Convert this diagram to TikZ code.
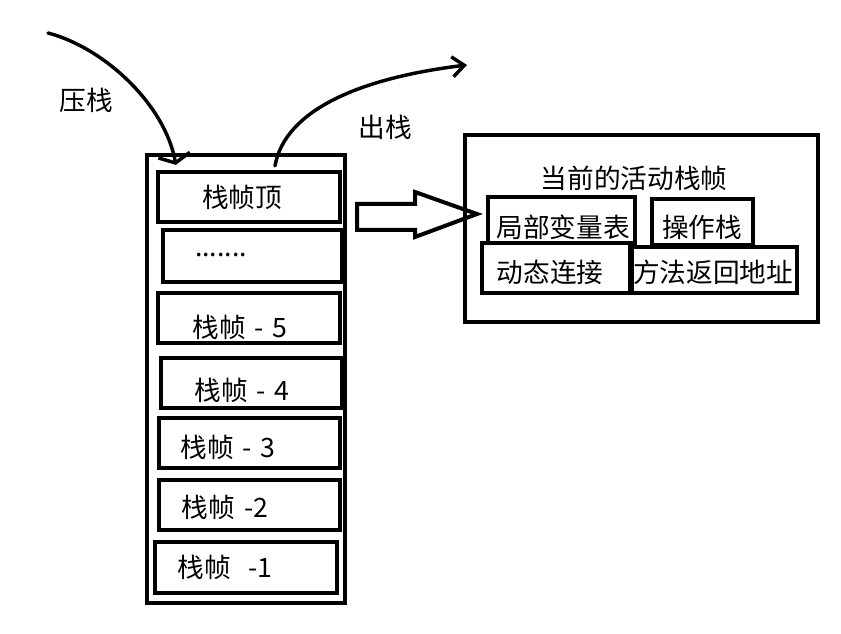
\documentclass[tikz,border=0pt]{standalone}
\usepackage{fontspec}
\newfontfamily\cjk[WordSpace=1.5]{Noto Sans CJK SC}
\usepackage{tikz}
\usetikzlibrary{arrows.meta, positioning, calc, fit}

\begin{document}
\begin{tikzpicture}[x=0.75pt, y=-0.75pt,
    frame/.style={draw, rectangle, line width=3.2pt, inner sep=0pt},
    part/.style={frame, line width=3.6pt},
    txt/.style={font=\cjk\fontsize{20}{24}\selectfont, inner sep=0pt},
    curve/.style={line width=2.6pt, line cap=round}]
    \useasboundingbox (0,0) rectangle (841,634);
    % the stack and its frames
    \node[frame, line width=2.5pt, fit={(147,155) (345,603)}] (stack) {};
    \node[frame, fit={(158,172) (340,222)}] (f0) {};
    \node[frame, fit={(163,230) (342,282)}] (fd) {};
    \node[frame, fit={(158,293) (340,343)}] (f5) {};
    \node[frame, fit={(161,358) (342,408)}] (f4) {};
    \node[frame, fit={(159,418) (340,468)}] (f3) {};
    \node[frame, fit={(159,480) (340,530)}] (f2) {};
    \node[frame, fit={(155,542) (337,593)}] (f1) {};
    \node[txt] (t0) at (242,197) {栈帧顶};
    \node[txt] (td) at (221,255) {.......};
    \node[txt] (t5) at (240,327) {栈帧 - 5};
    \node[txt] (t4) at (242,390) {栈帧 - 4};
    \node[txt] (t3) at (228,447) {栈帧 - 3};
    \node[txt] (t2) at (225,507) {栈帧 -2};
    \node[txt] (t1) at (225,567) {栈帧 \ -1};
    % push and pop
    \coordinate (pushsrc) at (48,33);
    \coordinate (popdst) at (467,65);
    \node[txt] (push) at (86,100) {压栈};
    \node[txt] (pop) at (385,127) {出栈};
    \draw[curve, -{Straight Barb[length=6pt, width=24pt]}] (pushsrc) .. controls (105,48) and (165,105) .. ([shift={(20,-5)}]f0.north west);
    \draw[curve, -{Straight Barb[length=9pt, width=15pt]}] ([shift={(26,-4)}]f0.north) .. controls (285,110) and (360,78) .. (popdst);
    % block arrow
    \draw[line width=3pt, line join=miter] (357,204) -- (415,204) -- (415,192) -- (477,214) -- (415,237) -- (415,230) -- (357,230) -- cycle;
    % current frame
    \node[frame, fit={(465,135) (818,322)}] (cur) {};
    \node[txt] (curlbl) at (634,178) {当前的活动栈帧};
    \node[part, fit={(488,197) (635,243)}] (loc) {};
    \node[part, fit={(652,199) (753,245)}] (ops) {};
    \node[part, fit={(482,243) (632,293)}] (dyn) {};
    \node[part, fit={(630,247) (797,293)}] (ret) {};
    \node[txt] (tloc) at (563,227) {局部变量表};
    \node[txt] (tops) at (702,227) {操作栈};
    \node[txt] (tdyn) at (550,272) {动态连接};
    \node[txt] (tret) at (713,272) {方法返回地址};
\end{tikzpicture}
\end{document}
